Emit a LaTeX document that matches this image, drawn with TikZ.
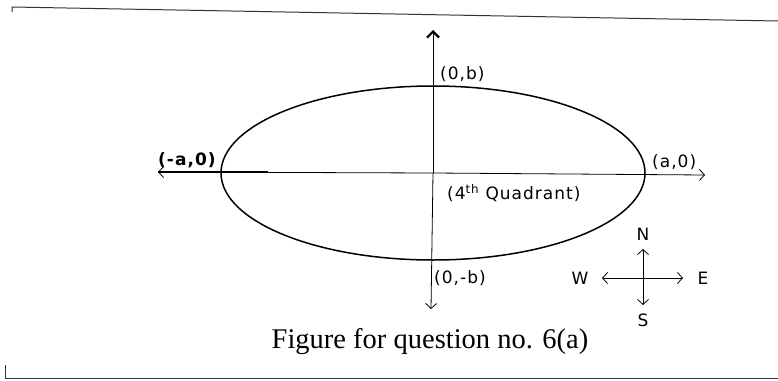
\documentclass[tikz,border=0pt]{standalone}
\usepackage{fontspec}
\setmainfont{Liberation Serif}
\newfontfamily\lblfont[LetterSpace=6]{DejaVu Sans}
\usetikzlibrary{arrows.meta}

\begin{document}
\begin{tikzpicture}[x=1pt, y=-1pt,
    axis/.style={line width=0.8pt, -{Straight Barb[length=5pt, width=11pt]}},
    lbl/.style={inner sep=0pt, anchor=west, font=\lblfont\fontsize{17}{19}\selectfont},
    frame/.style={line width=1pt, black!80}]
  \useasboundingbox (0,0) rectangle (778,380);

  % Coordinates
  \coordinate (o) at (433,173);
  \coordinate (ytop) at (433,30);
  \coordinate (ybot) at (431,309);
  \coordinate (xleft) at (158,172);
  \coordinate (xright) at (705,175);
  \coordinate (xthick) at (268,172);
  \coordinate (c) at (643,278);
  \coordinate (cn) at (643,249);
  \coordinate (cs) at (643,305);
  \coordinate (cw) at (602,278);
  \coordinate (ce) at (683,278);

  % Frame
  \draw[frame] (12,12) -- (12,7) -- (778,21);
  \draw[frame] (5,365) -- (5,378) -- (778,378);

  % Ellipse
  \draw[line width=1.5pt] (o) ellipse [x radius=212, y radius=87];

  % Axes
  \draw[axis, line width=1pt, -{Straight Barb[length=6pt, width=12pt, line width=2.2pt]}] (o) -- (ytop);
  \draw[axis] (o) -- (ybot);
  \draw[axis] (o) -- (xright);
  \draw[axis] (o) -- (xleft);
  \draw[line width=1.6pt] (xleft) -- (xthick);

  % Labels
  \node (pb) [lbl] at (440,74) {(0,b)};
  \node (pma) [lbl, font=\lblfont\bfseries\fontsize{17}{19}\selectfont] at (158,160) {(-a,0)};
  \node (pa) [lbl] at (652,162) {(a,0)};
  \node (quad) [lbl, font=\lblfont\fontsize{17}{19}\selectfont] at (447,193) {(4\textsuperscript{th} Quadrant)};
  \node (pmb) [lbl] at (434,278) {(0,-b)};

  % Compass
  \draw[axis] (c) -- (cn);
  \draw[axis] (c) -- (cs);
  \draw[axis] (c) -- (cw);
  \draw[axis] (c) -- (ce);
  \node (north) [lbl, anchor=center] at (643,234) {N};
  \node (south) [lbl, anchor=center] at (643,320) {S};
  \node (west) [lbl, anchor=center] at (580,278) {W};
  \node (east) [lbl, anchor=center] at (703,278) {E};

  % Caption
  \node (caption) [inner sep=0pt, anchor=base, font=\fontsize{28.5}{32}\selectfont] at (430,348) {Figure for question no. 6(a)};
\end{tikzpicture}
\end{document}
